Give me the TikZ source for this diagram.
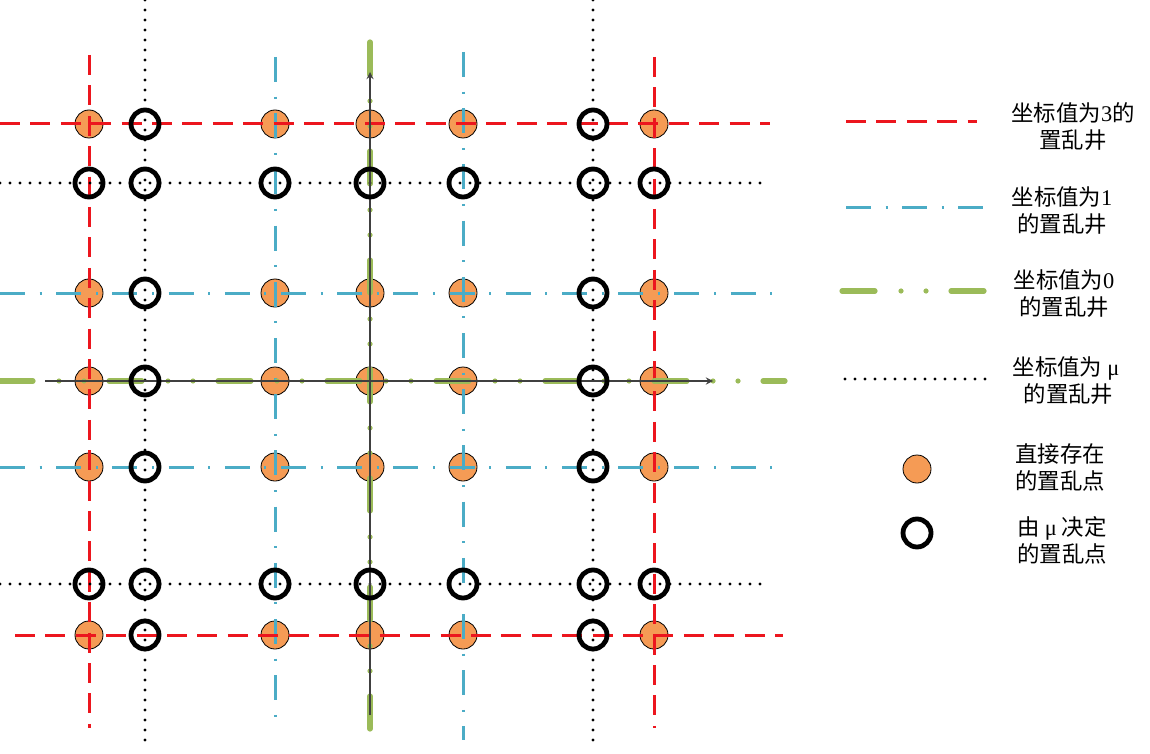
\documentclass[tikz,border=0pt]{standalone}
\usepackage{fontspec}
\newfontfamily\cjk{Noto Sans CJK SC}
\newfontfamily\latserif{Liberation Serif}
\definecolor{jingred}{RGB}{236,22,30}
\definecolor{jingblue}{RGB}{75,172,198}
\definecolor{jinggreen}{RGB}{155,187,89}
\definecolor{dianorange}{RGB}{245,155,85}
\newcommand{\lat}[1]{{\latserif #1}}

\begin{document}
\begin{tikzpicture}[x=0.5pt,y=-0.5pt,
    well3/.style={color=jingred,line width=1.5pt,dash pattern=on 10pt off 5.2pt},
    well1/.style={color=jingblue,line width=1.5pt,dash pattern=on 12.5pt off 7.3pt on 1pt off 7.3pt},
    well0/.style={color=jinggreen,line width=2.6pt,line cap=round,dash pattern=on 16.5pt off 13pt on 0pt off 12.5pt on 0pt off 12.5pt},
    wellmu/.style={color=black,line width=1.6pt,line cap=round,dash pattern=on 0pt off 5pt},
    axis/.style={->,>=stealth,color=black!75,line width=0.6pt},
    direct/.style={fill=dianorange,draw=black,line width=0.4pt},
    bymu/.style={draw=black,line width=2.4pt},
    legtext/.style={font=\cjk\fontsize{11.2}{13.5}\selectfont,align=center}]

\useasboundingbox (0,0) rectangle (1150,754);

% points that exist directly
\foreach \x in {89,275,370,463,654}
  \foreach \y in {124,293,381,467,635}
    \draw[direct] (\x,\y) circle[radius=14];

% vertical wells
\draw[well3] (89,55) -- (89,728);
\draw[wellmu] (145,0) -- (145,745);
\draw[well1] (275,57) -- (275,722);
\draw[well0] (370,42) -- (370,738);
\draw[well1] (463,52) -- (463,740);
\draw[wellmu] (593,0) -- (593,745);
\draw[well3] (654,57) -- (654,728);

% horizontal wells
\draw[well3] (0,124) -- (770,124);
\draw[wellmu] (0,183) -- (765,183);
\draw[well1] (0,293) -- (780,293);
\draw[well0] (0,381) -- (785,381);
\draw[well1] (0,467) -- (780,467);
\draw[wellmu] (0,584) -- (765,584);
\draw[well3] (15,635) -- (783,635);

% axes
\draw[axis] (45,381) -- (713,381);
\draw[axis] (370,715) -- (370,72);

% points given by mu
\foreach \x in {89,145,275,370,463,593,654}
  \foreach \y in {183,584}
    \draw[bymu] (\x,\y) circle[radius=14];
\foreach \x in {145,593}
  \foreach \y in {124,293,381,467,635}
    \draw[bymu] (\x,\y) circle[radius=14];

% legend
\draw[well3] (846,122) -- (977,122);
\draw[well1] (846,208) -- (984,208);
\draw[well0] (842,291) -- (986,291);
\draw[wellmu] (845,379) -- (987,379);
\draw[direct] (917,469) circle[radius=14];
\draw[bymu] (917,533) circle[radius=14];

\node[legtext] (leg3) at (1073,127) {坐标值为\lat{3}的\\置乱井};
\node[legtext] (leg1) at (1062,211) {坐标值为\lat{1}\\的置乱井};
\node[legtext] (leg0) at (1064,294) {坐标值为\lat{0}\\的置乱井};
\node[legtext] (legmu) at (1066,381) {坐标值为 \lat{μ}\\\ 的置乱井};
\node[legtext] (legdirect) at (1060,467) {直接存在\\的置乱点};
\node[legtext] (legbymu) at (1062,540) {由 \lat{μ} 决定\\的置乱点};
\end{tikzpicture}
\end{document}
